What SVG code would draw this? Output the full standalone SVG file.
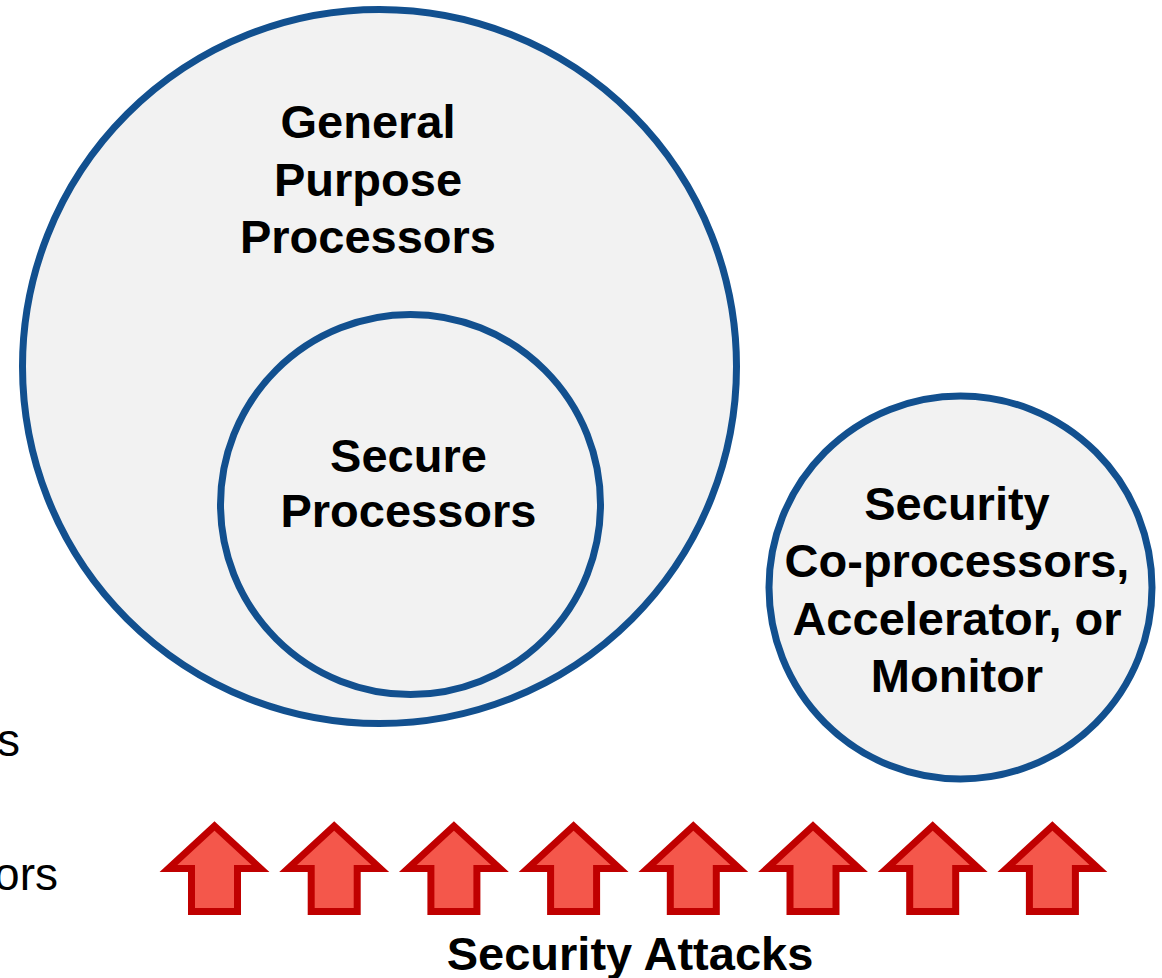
<svg xmlns="http://www.w3.org/2000/svg" width="1162" height="978" viewBox="0 0 1162 978">
  <defs>
    <style>
      .ring { fill: #f2f2f2; stroke: #12508f; stroke-width: 7; }
      .label { font-family: "Liberation Sans", Arial, sans-serif; font-weight: bold; font-size: 47px; fill: #000; text-anchor: middle; }
      .side { font-family: "Liberation Sans", Arial, sans-serif; font-size: 46px; fill: #000; text-anchor: end; }
      .attack { fill: #f4574b; stroke: #c00000; stroke-width: 7; stroke-linejoin: miter; stroke-miterlimit: 10; }
    </style>
    <!-- upward block arrow, centred on x = 0 -->
    <path id="up-arrow" class="attack" d="M 0 826 L 46 868.5 L 23 868.5 L 23 911.5 L -23 911.5 L -23 868.5 L -46 868.5 Z"/>
  </defs>

  <rect width="1162" height="978" fill="#ffffff"/>

  <!-- text partly cut off at the left edge -->
  <text class="side" x="20" y="756">s</text>
  <text class="side" x="58" y="890">ors</text>

  <g id="general-purpose">
    <circle class="ring" cx="379.5" cy="366.5" r="357"/>
    <text class="label" x="368" y="138">General</text>
    <text class="label" x="368" y="195.5">Purpose</text>
    <text class="label" x="368" y="253">Processors</text>
  </g>

  <g id="secure-processors">
    <circle class="ring" cx="410.5" cy="504.5" r="190"/>
    <text class="label" x="408.5" y="472">Secure</text>
    <text class="label" x="408.5" y="527">Processors</text>
  </g>

  <g id="security-coprocessors">
    <circle class="ring" cx="960.5" cy="587.5" r="191.5"/>
    <text class="label" x="957" y="520">Security</text>
    <text class="label" x="957" y="577">Co-processors,</text>
    <text class="label" x="957" y="634.5">Accelerator, or</text>
    <text class="label" x="957" y="691.5">Monitor</text>
  </g>

  <g id="security-attacks">
    <use href="#up-arrow" x="214.5"/>
    <use href="#up-arrow" x="334.2"/>
    <use href="#up-arrow" x="453.9"/>
    <use href="#up-arrow" x="573.6"/>
    <use href="#up-arrow" x="693.3"/>
    <use href="#up-arrow" x="813"/>
    <use href="#up-arrow" x="932.7"/>
    <use href="#up-arrow" x="1052.4"/>
    <text class="label" x="630" y="970">Security Attacks</text>
  </g>
</svg>
